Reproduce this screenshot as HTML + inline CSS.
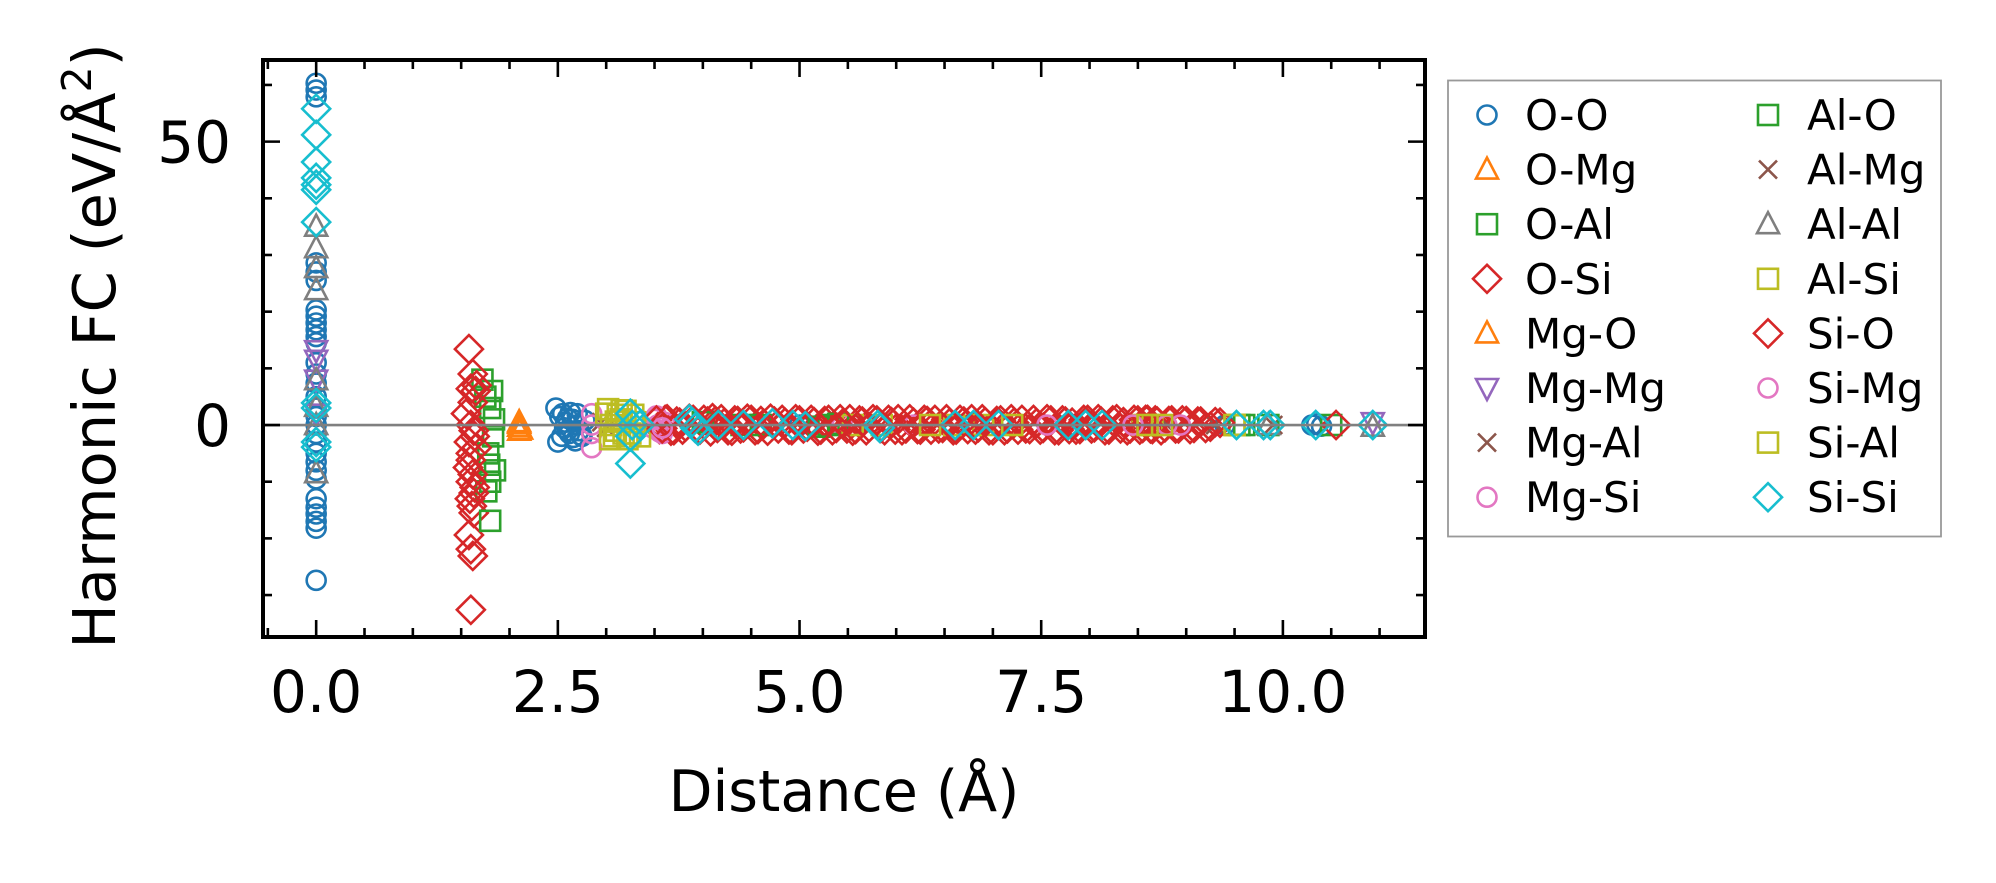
<!DOCTYPE html>
<html><head><meta charset="utf-8"><style>
html,body{margin:0;padding:0;background:#fff;}
svg{display:block;font-family:"DejaVu Sans","Liberation Sans",sans-serif;}
</style></head><body>
<svg id="chart" width="1996" height="883" viewBox="0 0 1996 883" xmlns="http://www.w3.org/2000/svg">
<rect x="0" y="0" width="1996" height="883" fill="#fff"/>
<g id="marks"></g>
<g id="axes"></g>
<g id="legend"></g>
</svg>
<script>
const xTicks = [0, 2.5, 5, 7.5, 10];
const xTickLabels = ["0.0", "2.5", "5.0", "7.5", "10.0"];
const yTicks = [0, 50];
const yTickLabels = ["0", "50"];
const yMinorTicks = [-30, -20, -10, 10, 20, 30, 40, 60];
const xMinorTicks = [-0.5, 0.5, 1, 1.5, 2, 3, 3.5, 4, 4.5, 5.5, 6, 6.5, 7, 8, 8.5, 9, 9.5, 10.5, 11];
const seriesNames = ["O-O","O-Mg","O-Al","O-Si","Mg-O","Mg-Mg","Mg-Al","Mg-Si","Al-O","Al-Mg","Al-Al","Al-Si","Si-O","Si-Mg","Si-Al","Si-Si"];

const ooX = [0,0,0,0,0,0,0,0,0,0,0,0,0,0,0,0,0,0,0,0,0,0,0,0,0,0,0,0,0,0,0, 2.48,2.55,2.6,2.65,2.7,2.75,2.5,2.58,2.62,2.68,2.52,2.57,2.63,2.72,2.78,2.66,2.54,2.6,2.7,2.74, 5.0,9.4,10.3,10.35,10.4];
const ooY = [60.3,59.1,57.9,28.6,27,25.5,20.3,19.2,18,16.8,15.6,14.5,11,9,7.4,5,3,1.5,0,-1.5,-3,-5,-6.5,-8,-9.5,-13,-14.5,-15.7,-17,-18.2,-27.4, 3,2,-1,1,0,-2,-3,0.5,-1.5,-2.8,1.5,-0.5,2.2,-1,0.8,-2.2,-2,1.2,2,-1.8, 0,0,0,0.2,-0.2];
const omgX = [2.1,2.1,2.1];
const omgY = [0.5,-0.3,-1];
const oalX = [1.72,1.75,1.8,1.83,1.78,1.85,1.76,1.82,1.8,1.84,1.79, 4.4,5.3,9.6,10.5];
const oalY = [8,5,3,-2,-5,-8,-11.7,6,-10,1,-7, 0,0,0,0];
const osiX = [1.58,1.62,1.6,1.65,1.55,1.6,1.63,1.58,1.66,1.6,1.57,1.62,1.6,1.64,1.59,1.61,1.63,1.58,1.6,1.62,1.6,1.62,1.64,1.6,1.66,1.63,
  3.55,3.61,3.67,3.73,3.79,3.86,3.93,4.01,4.08,4.13,4.19,4.26,4.33,4.39,4.46,4.54,4.6,4.67,4.74,4.82,4.89,4.96,5.04,5.12,5.19,5.26,5.34,5.42,5.49,5.55,5.62,5.69,5.76,5.84,5.92,5.99,6.06,6.14,6.22,6.29,6.36,6.44,6.52,6.59,6.66,6.74,6.82,6.89,6.96,7.04,7.12,7.19,7.26,7.34,7.42,7.49,7.56,7.64,7.72,7.79,7.86,7.94,8.02,8.09,8.16,8.24,8.32,8.39,8.46,8.52,8.58,8.63,8.68,8.74,8.82,8.89,8.96,9.04,9.12,9.2,9.3,9.4];
const osiY = [13.4,9,6.4,6,2,0,-1,-3,-4,-6.2,-7.5,-8.7,-10,-11,-13,-14.3,-15.5,-19.4,-21.9,-23.1,-32.6,4,-2,-5,7,-12,
  -0.7,0.9,-1.0,0.6,-0.8,1.1,-0.5,0.9,-1.1,0.7,1.0,-0.9,0.8,-0.6,1.1,-0.9,0.7,-1.0,0.6,0.9,-0.8,1.0,-0.6,0.9,-1.0,0.7,-0.9,1.0,-0.6,-1.0,0.8,-0.9,1.0,-0.5,0.9,-0.8,-0.9,1.0,-0.7,0.9,-0.8,-0.6,1.0,-0.9,0.9,-0.7,-0.8,1.0,-0.9,0.7,-0.9,1.0,-0.8,-0.6,0.9,-0.8,1.0,-0.9,0.8,-0.7,-0.8,0.9,-0.6,1.0,-0.9,0.8,-0.6,-0.9,0.9,-0.8,0.9,-0.6,0.8,-0.9,0.7,-0.6,0.8,-0.7,0.6,-0.5,0.5];
const mgoX = [2.1,2.12];
const mgoY = [0.2,-0.8];
const mgmgX = [0,0,0,0,10.93];
const mgmgY = [13.2,11.5,8,2,0.5];
const mgalX = [2.95,8.8,9.9];
const mgalY = [0.5,0,0];
const mgsiX = [2.85,2.85,2.85,2.85,3.5,3.53,3.56,3.6,3.48,3.52,3.58,3.55,5.44,6.18];
const mgsiY = [2,0,-1.5,-4,1,0,-1,0.5,-0.5,1.6,-1.5,-1.2,0,0];
const aloX = [1.8,4.0,4.6,5.2,5.4,9.55,9.85];
const aloY = [-16.9,0.5,0,-0.3,0.2,0,0];
const almgX = [3.0,5.7,9.3];
const almgY = [-0.5,0,0];
const alalX = [0,0,0,0,0,0,0,0,9.85,10.93];
const alalY = [35,31.2,27.7,23.8,7.9,3.2,0,-8.5,0,-0.3];
const alsiX = [3.0,3.05,3.1,3.15,3.35,3.02,3.08,3.12,3.18,3.04,3.1,3.16,5.55,5.85,6.6,6.9,8.55,8.65,9.5];
const alsiY = [2,0,-1,1,-2,2.8,-2,1.8,-1.5,-2.5,0.6,2.6,0,0,0,0,0,0,0];
const sioX = [3.52,3.58,3.63,3.7,3.76,3.82,3.9,3.97,4.05,4.1,4.15,4.22,4.3,4.36,4.42,4.5,4.57,4.63,4.7,4.78,4.85,4.92,5.0,5.08,5.15,5.22,5.3,5.38,5.45,5.52,5.58,5.65,5.72,5.8,5.88,5.95,6.02,6.1,6.18,6.25,6.32,6.4,6.48,6.55,6.62,6.7,6.78,6.85,6.92,7.0,7.08,7.15,7.22,7.3,7.38,7.45,7.52,7.6,7.68,7.75,7.82,7.9,7.98,8.05,8.12,8.2,8.28,8.35,8.42,8.5,8.55,8.6,8.65,8.7,8.78,8.85,8.92,9.0,9.08,9.15,9.25,9.35,10.55];
const sioY = [0.8,-0.6,1.0,-0.9,0.4,-0.3,0.9,-0.8,0.6,1.2,-0.5,0.3,-1.0,0.7,-0.4,0.9,-0.7,0.2,1.1,-0.6,0.4,-0.9,0.8,-0.3,0.5,-0.8,0.9,-0.5,0.3,1.0,-0.7,0.6,-0.4,0.8,-0.9,0.5,1.0,-0.6,0.4,-0.8,0.7,0.9,-0.5,0.3,-0.8,0.6,1.0,-0.4,0.5,-0.9,0.8,-0.6,0.4,0.9,-0.7,0.3,-0.5,0.8,-0.9,0.6,0.4,-0.7,0.9,-0.4,0.6,-0.8,1.0,0.5,-0.6,0.8,-0.5,0.9,-0.7,0.6,-0.4,0.8,-0.6,0.7,-0.5,0.6,-0.3,0.4,0];
const simgX = [7.56,8.45,8.8,8.94,3.58];
const simgY = [0,0,0,0,-0.5];
const sialX = [3.2,3.25,3.3,3.22,3.28,6.35,7.2,8.6,8.75,9.5];
const sialY = [2.5,-1.5,0.5,-2.5,1.8,0,0,0,0,0];
const sisiX = [0,0,0,0,0,0,0,0,0,0,0, 3.25,3.27,3.25,3.25, 3.35,3.89,3.92,3.86,3.95,4.16,4.42,4.72,4.93,5.06,5.81,5.83,6.61,6.8,7.06,7.78,7.96,8.13,9.52,9.8,9.87,10.34,10.93];
const sisiY = [55.8,51.2,46.4,43.6,42.4,41.5,35.8,3.9,3,-3,-3.9, 2,0,-2,-6.8, 0,0.5,-0.5,1,-1,0,0,0.3,0,-0.2,0,-0.5,0,0,0,0,0,0,0,0,0,0,0];

const X0 = 263, X1 = 1425, Y0 = 60, Y1 = 637;
const xMin = -0.55, xMax = 11.47, yMin = -37.4, yMax = 64.4;
function sx(v){ return X0 + (v - xMin) / (xMax - xMin) * (X1 - X0); }
function sy(v){ return Y1 - (v - yMin) / (yMax - yMin) * (Y1 - Y0); }

const NS = "http://www.w3.org/2000/svg";
function mk(tag, attrs, parent){
  const e = document.createElementNS(NS, tag);
  for (const k in attrs) e.setAttribute(k, attrs[k]);
  parent.appendChild(e);
  return e;
}
function drawMarker(parent, shape, color, cx, cy, name){
  let e;
  const sw = 2.6;
  if (shape === "o") e = mk("circle", {cx:cx, cy:cy, r:9.5, fill:"none", stroke:color, "stroke-width":sw}, parent);
  else if (shape === "s") e = mk("rect", {x:cx-10, y:cy-10, width:20, height:20, fill:"none", stroke:color, "stroke-width":sw}, parent);
  else if (shape === "D") e = mk("polygon", {points:`${cx},${cy-14} ${cx+14},${cy} ${cx},${cy+14} ${cx-14},${cy}`, fill:"none", stroke:color, "stroke-width":sw}, parent);
  else if (shape === "^") e = mk("polygon", {points:`${cx},${cy-12} ${cx+11},${cy+9} ${cx-11},${cy+9}`, fill:"none", stroke:color, "stroke-width":sw}, parent);
  else if (shape === "v") e = mk("polygon", {points:`${cx},${cy+12} ${cx+11},${cy-9} ${cx-11},${cy-9}`, fill:"none", stroke:color, "stroke-width":sw}, parent);
  else e = mk("path", {d:`M${cx-9},${cy-9}L${cx+9},${cy+9}M${cx-9},${cy+9}L${cx+9},${cy-9}`, fill:"none", stroke:color, "stroke-width":sw}, parent);
  
  
  return e;
}

const seriesX = [ooX,omgX,oalX,osiX,mgoX,mgmgX,mgalX,mgsiX,aloX,almgX,alalX,alsiX,sioX,simgX,sialX,sisiX];
const seriesY = [ooY,omgY,oalY,osiY,mgoY,mgmgY,mgalY,mgsiY,aloY,almgY,alalY,alsiY,sioY,simgY,sialY,sisiY];
const colors = ["#1f77b4","#ff7f0e","#2ca02c","#d62728","#ff7f0e","#9467bd","#8c564b","#e377c2","#2ca02c","#8c564b","#7f7f7f","#bcbd22","#d62728","#e377c2","#bcbd22","#17becf"];
const shapes = ["o","^","s","D","^","v","x","o","s","x","^","s","D","o","s","D"];

const marks = document.getElementById("marks");
const clip = mk("clipPath", {id:"plotclip"}, marks);
mk("rect", {x:X0, y:Y0, width:X1-X0, height:Y1-Y0}, clip);
marks.setAttribute("clip-path", "url(#plotclip)");
for (let s = 0; s < seriesNames.length; s++){
  const g = mk("g", {}, marks);
  
  
  for (let i = 0; i < seriesX[s].length; i++){
    drawMarker(g, shapes[s], colors[s], sx(seriesX[s][i]), sy(seriesY[s][i]), 'point-' + seriesNames[s].toLowerCase());
  }
}
const zl = mk("line", {x1:X0, x2:X1, y1:sy(0), y2:sy(0), stroke:"#808080", "stroke-width":2.6}, marks);



const axes = document.getElementById("axes");
function tick(x1,y1,x2,y2,name){
  const t = mk("line", {x1:x1,y1:y1,x2:x2,y2:y2,stroke:"#000","stroke-width":2.6}, axes);
  
  
}
xTicks.forEach((v,i)=>{
  const x = sx(v);
  tick(x, Y1, x, Y1-17, 'x-major-tick');
  tick(x, Y0, x, Y0+17, 'x-major-tick-top');
  const t = mk("text", {x:x, y:712, "font-size":58, "text-anchor":"middle", fill:"#000"}, axes);
  t.textContent = xTickLabels[i];
  
  
});
xMinorTicks.forEach(v=>{
  const x = sx(v);
  tick(x, Y1, x, Y1-9, 'x-minor-tick');
  tick(x, Y0, x, Y0+9, 'x-minor-tick-top');
});
yTicks.forEach((v,i)=>{
  const y = sy(v);
  tick(X0, y, X0+17, y, 'y-major-tick');
  tick(X1, y, X1-17, y, 'y-major-tick-right');
  const t = mk("text", {x:231, y:y+21, "font-size":58, "text-anchor":"end", fill:"#000"}, axes);
  t.textContent = yTickLabels[i];
  
  
});
yMinorTicks.forEach(v=>{
  const y = sy(v);
  tick(X0, y, X0+9, y, 'y-minor-tick');
  tick(X1, y, X1-9, y, 'y-minor-tick-right');
});
const frame = mk("rect", {x:X0, y:Y0, width:X1-X0, height:Y1-Y0, fill:"none", stroke:"#000", "stroke-width":4}, axes);


const xl = mk("text", {x:(X0+X1)/2, y:811, "font-size":57, "text-anchor":"middle", fill:"#000"}, axes);
xl.textContent = "Distance (Å)";


const yl = mk("text", {x:0, y:0, "font-size":59, "text-anchor":"middle", fill:"#000", transform:"translate(115,346) rotate(-90)"}, axes);


const t1 = mk("tspan", {}, yl); t1.textContent = "Harmonic FC (eV/Å";
const t2 = mk("tspan", {dy:-24, "font-size":41}, yl); t2.textContent = "2";
const t3 = mk("tspan", {dy:24}, yl); t3.textContent = ")";

const legend = document.getElementById("legend");
const lb = mk("rect", {x:1448, y:80.5, width:493, height:456, fill:"#fff", stroke:"#999", "stroke-width":1.8}, legend);


for (let s = 0; s < seriesNames.length; s++){
  const col = Math.floor(s / 8), row = s % 8;
  const cy = 115 + row * 54.6;
  const mx = col === 0 ? 1487 : 1768;
  const tx = col === 0 ? 1525 : 1807;
  const g = mk("g", {}, legend);
  
  
  drawMarker(g, shapes[s], colors[s], mx, cy, 'legend-marker');
  const t = mk("text", {x:tx, y:cy+15, "font-size":42, fill:"#000"}, g);
  t.textContent = seriesNames[s];
  
  
}
</script>
</body></html>
